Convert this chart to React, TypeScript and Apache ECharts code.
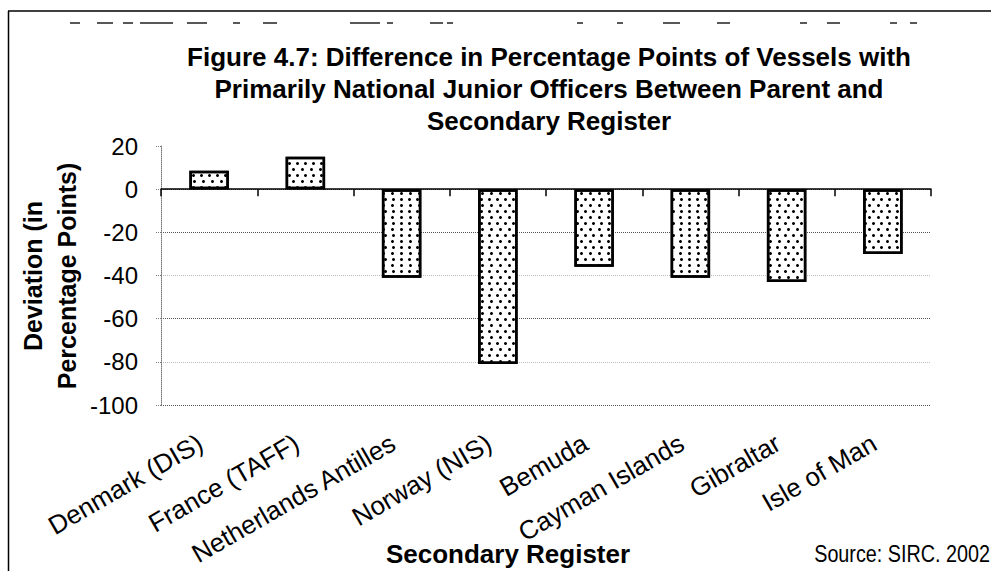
import React, { useEffect, useRef } from "react";
import * as echarts from "echarts";

const categories = [
  "Denmark (DIS)",
  "France (TAFF)",
  "Netherlands Antilles",
  "Norway (NIS)",
  "Bemuda",
  "Cayman Islands",
  "Gibraltar",
  "Isle of Man",
];
const deviations = [8.5, 15, -41, -81, -36, -41, -43, -30];
const yMin = -100;
const yMax = 20;
const yStep = 20;
const titleText =
  "Figure 4.7: Difference in Percentage Points of Vessels with\nPrimarily National Junior Officers Between Parent and\nSecondary Register";
const yAxisTitle = "Deviation (in\nPercentage Points)";
const xAxisTitle = "Secondary Register";
const sourceText = "Source: SIRC. 2002";
// remnants of a cut-off line above the figure (scan artefact)
const ghostDash = [
  10, 17, 16, 10, 10, 7, 33, 14, 20, 26, 7, 23, 14, 73, 30, 7, 6, 37, 13, 4, 6, 124, 6, 34, 6,
  40, 17, 37, 13, 70, 7, 20, 13, 50, 7, 13, 7, 100,
];

const FONT = "'Liberation Sans', Arial, sans-serif";

export default function App() {
  const ref = useRef<HTMLDivElement>(null);
  useEffect(() => {
    if (!ref.current) return;
    const chart = echarts.init(ref.current, null, { renderer: "svg" });
    chart.setOption({
      animation: false,
      backgroundColor: "#fff",
      title: {
        text: titleText,
        left: 544,
        top: 36,
        textAlign: "center",
        textStyle: {
          fontFamily: FONT,
          fontSize: 26,
          fontWeight: "bold",
          lineHeight: 32,
          color: "#000",
        },
      },
      grid: {
        left: 161,
        right: 60,
        top: 146,
        bottom: 166,
        containLabel: false,
        outerBoundsMode: "none",
      },
      xAxis: {
        type: "category",
        data: categories,
        axisLine: { onZero: true, lineStyle: { color: "#000", width: 1.5 } },
        axisTick: { show: true, length: 7, interval: 0, lineStyle: { color: "#000", width: 1.5 } },
        axisLabel: {
          interval: 0,
          rotate: 30,
          margin: 31,
          padding: [0, 10, 0, 0],
          fontFamily: FONT,
          fontSize: 26,
          color: "#000",
          hideOverlap: false,
        },
        splitLine: { show: false },
      },
      yAxis: {
        type: "value",
        min: yMin,
        max: yMax,
        interval: yStep,
        axisLine: { show: true, lineStyle: { color: "#777", type: "dotted", width: 1 } },
        axisTick: { show: true, length: 6, lineStyle: { color: "#777", type: "dotted" } },
        axisLabel: { margin: 23, fontFamily: FONT, fontSize: 24, color: "#000" },
        splitLine: {
          show: true,
          lineStyle: {
            type: "dotted",
            width: 1,
            color: ["#555", "#bbb", "#555", "#bbb", "#555", "#555", "rgba(0,0,0,0)"],
          },
        },
      },
      series: [
        {
          type: "bar",
          data: deviations,
          barWidth: "41%",
          itemStyle: {
            color: "#fff",
            borderColor: "#000",
            borderWidth: 2.5,
            decal: {
              symbol: "circle",
              symbolSize: 1,
              color: "#000",
              dashArrayX: [
                [2.4, 4.6],
                [0, 3.5, 2.4, 1.1],
              ],
              dashArrayY: [2.4, 2.4],
              rotation: 0,
            },
          },
        },
      ],
      graphic: [
        {
          type: "line",
          shape: { x1: 70, y1: 23, x2: 917, y2: 23 },
          style: { stroke: "#222", lineWidth: 1.5, lineDash: ghostDash },
        },
        {
          type: "line",
          shape: { x1: 8, y1: 11, x2: 991, y2: 11 },
          style: { stroke: "#000", lineWidth: 1.5 },
        },
        {
          type: "line",
          shape: { x1: 8.5, y1: 11, x2: 8.5, y2: 571 },
          style: { stroke: "#000", lineWidth: 1.5 },
        },
        {
          type: "text",
          x: 50,
          y: 276,
          rotation: Math.PI / 2,
          style: {
            text: yAxisTitle,
            font: `bold 25px ${FONT}`,
            lineHeight: 34,
            fill: "#000",
            align: "center",
            verticalAlign: "middle",
          },
        },
        {
          type: "text",
          x: 508,
          y: 554,
          style: {
            text: xAxisTitle,
            font: `bold 26px ${FONT}`,
            fill: "#000",
            align: "center",
            verticalAlign: "middle",
          },
        },
        {
          type: "text",
          x: 990,
          y: 554,
          scaleX: 0.86,
          style: {
            text: sourceText,
            font: `23px ${FONT}`,
            fill: "#000",
            align: "right",
            verticalAlign: "middle",
          },
        },
      ],
    });
    return () => chart.dispose();
  }, []);
  return (
    <div
      ref={ref}
      style={{ position: "fixed", left: 0, top: 0, width: 991, height: 571 }}
    />
  );
}
